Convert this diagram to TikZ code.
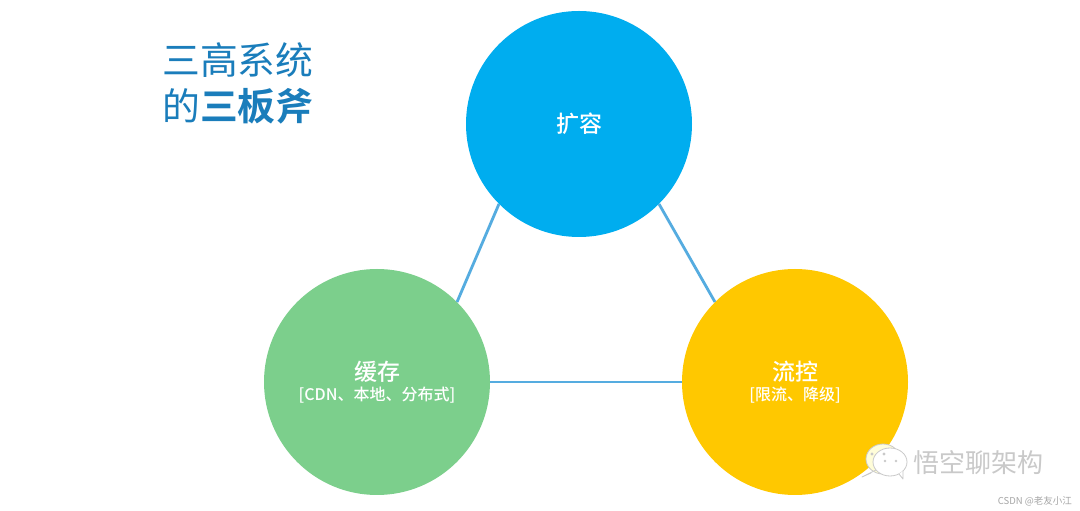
\documentclass[tikz,border=0pt]{standalone}
\usepackage{fontspec}
\newfontfamily\cjk[BoldFont={Noto Sans CJK SC Bold}]{Noto Sans CJK SC}
\newfontfamily\cjkmid{Noto Sans CJK SC Medium}
\definecolor{titleblue}{HTML}{1A7DBB}
\definecolor{topblue}{HTML}{00ADEF}
\definecolor{leftgreen}{HTML}{7CCF8C}
\definecolor{rightyellow}{HTML}{FFC800}
\definecolor{edgeblue}{HTML}{55ACE0}
\definecolor{markgray}{HTML}{C9C9C9}
\tikzset{
  bigcircle/.style={circle,minimum size=226pt,inner sep=0pt,text=white,align=center,font=\cjk},
  sidelink/.style={edgeblue,line width=2.8pt,line cap=butt},
  bubble/.style={draw=markgray,line width=0.8pt,fill=white},
  titletext/.style={anchor=west,inner sep=0pt,text=titleblue,font=\cjk\fontsize{37.8}{40}\selectfont},
}
\newcommand{\headfont}{\cjkmid\fontsize{23}{24}\selectfont}
\newcommand{\subfont}{\cjkmid\fontsize{16}{19}\selectfont}
\begin{document}
\begin{tikzpicture}[x=1pt,y=1pt,line join=round,line cap=round]
  \useasboundingbox (0,0) rectangle (1080,511);
  \fill[white] (0,0) rectangle (1080,511);
  % three circles
  \node[bigcircle,fill=topblue] (kuorong) at (579,387) {\headfont 扩容};
  \node[bigcircle,fill=leftgreen] (huancun) at (377,129) {\headfont 缓存\\[3pt]\subfont{}[CDN、本地、分布式]};
  \node[bigcircle,fill=rightyellow] (liukong) at (795,129) {\headfont 流控\\[3pt]\subfont{}[限流、降级]};
  \draw[sidelink] (kuorong.225)--(huancun.45);
  \draw[sidelink] (kuorong.-45)--(liukong.135);
  \draw[sidelink] (huancun.east)--(liukong.west);
  % title
  \node[titletext] (titleone) at (162,451) {三高系统};
  \node[titletext] (titletwo) at (162,405) {的\textbf{三板斧}};
  % watermark
  \fill[bubble,fill=white!85!yellow] (883,52) ellipse (17 and 15);
  \draw[bubble] (871,38)--(862,34)--(876,41);
  \fill[bubble] (890,49) ellipse (17 and 14);
  \draw[bubble] (899,37)--(903,32)--(903,40);
  \fill[markgray] (872,57) circle (1.6) (884,57) circle (1.6) (885,50) circle (1.3) (896,50) circle (1.3);
  \node[anchor=west,inner sep=0pt,text=markgray,font=\cjk\fontsize{26}{28}\selectfont] (markname) at (913,48) {悟空聊架构};
  \node[anchor=east,inner sep=0pt,text=gray!70,font=\cjk\fontsize{9.5}{10}\selectfont] (marksite) at (1072,10) {CSDN @老友小江};
\end{tikzpicture}
\end{document}
